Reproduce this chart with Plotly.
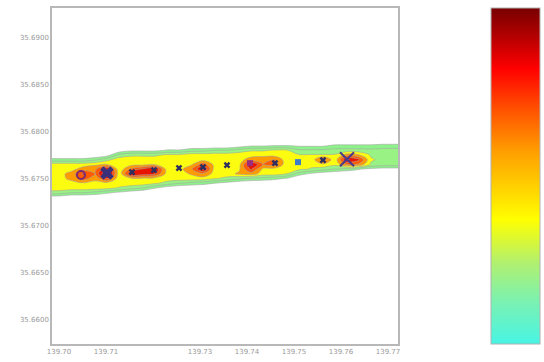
import numpy as np
import plotly.graph_objects as go

# grid longitudes (columns) and latitudes (rows, listed top to bottom)
x_grid = [139.6975, 139.70005, 139.7026, 139.70515, 139.7077, 139.71025, 139.7128,
          139.71535, 139.7179, 139.72045, 139.723, 139.72555, 139.7281, 139.73065,
          139.7332, 139.73575, 139.7383, 139.74085, 139.7434, 139.74595, 139.7485,
          139.75105, 139.7536, 139.75615, 139.7587, 139.76125, 139.7638, 139.76635,
          139.7689, 139.77145, 139.774]
y_grid_top_down = [35.6805, 35.6800, 35.6795, 35.6790, 35.6785, 35.6780, 35.6775,
                   35.6770, 35.6765, 35.6760, 35.6755, 35.6750, 35.6745, 35.6740,
                   35.6735, 35.6730, 35.6725, 35.6720]

# density, one list per longitude column (rows top -> bottom)
z_cols = [
    [0,0,0,0,0,0,0,13,35,36,36,36,36,36,26,4,0,0],
    [0,0,0,0,0,0,0,13,35,36,36,36,36,36,26,4,0,0],
    [0,0,0,0,0,0,0,13,35,36,44,43,36,36,21,0,0,0],
    [0,0,0,0,0,0,0,13,35,45,62,55,39,36,21,0,0,0],
    [0,0,0,0,0,0,0,18,38,48,50,44,36,36,17,0,0,0],
    [0,0,0,0,0,0,5,27,40,68,85,60,36,34,12,0,0,0],
    [0,0,0,0,0,2,23,36,36,33,32,33,36,29,8,0,0,0],
    [0,0,0,0,0,7,28,36,36,52,70,38,36,25,3,0,0,0],
    [0,0,0,0,0,7,28,36,36,62,66,38,36,20,0,0,0,0],
    [0,0,0,0,0,7,28,36,38,72,60,36,32,11,0,0,0,0],
    [0,0,0,0,0,11,32,36,36,34,36,36,26,4,0,0,0,0],
    [0,0,0,0,0,11,32,36,36,36,36,36,21,0,0,0,0,0],
    [0,0,0,0,0,16,36,36,38,48,41,36,17,0,0,0,0,0],
    [0,0,0,0,0,16,36,36,56,72,48,36,14,0,0,0,0,0],
    [0,0,0,0,0,20,36,36,36,34,36,31,10,0,0,0,0,0],
    [0,0,0,0,0,20,36,36,36,36,36,27,6,0,0,0,0,0],
    [0,0,0,0,3,25,36,36,36,38,42,22,2,0,0,0,0,0],
    [0,0,0,0,8,29,36,45,72,62,45,18,0,0,0,0,0,0],
    [0,0,0,0,8,29,36,48,50,38,36,16,0,0,0,0,0,0],
    [0,0,0,0,10,31,36,50,54,36,36,13,0,0,0,0,0,0],
    [0,0,0,0,10,31,36,34,33,36,30,9,0,0,0,0,0,0],
    [0,0,0,0,8,22,31,33,33,33,15,0,0,0,0,0,0,0],
    [0,0,0,0,8,22,31,33,33,29,8,0,0,0,0,0,0,0],
    [0,0,0,0,8,22,31,55,38,25,3,0,0,0,0,0,0,0],
    [0,0,0,0,12,24,31,33,33,20,0,0,0,0,0,0,0,0],
    [0,0,0,0,12,24,45,72,50,16,0,0,0,0,0,0,0,0],
    [0,0,0,0,12,24,41,62,48,11,0,0,0,0,0,0,0,0],
    [0,0,0,0,12,23,29,31,29,7,0,0,0,0,0,0,0,0],
    [0,0,0,0,14,24,27,28,26,5,0,0,0,0,0,0,0,0],
    [0,0,0,0,14,24,27,28,26,5,0,0,0,0,0,0,0,0],
    [0,0,0,0,14,24,27,28,26,5,0,0,0,0,0,0,0,0],
]

# stop points
stop_lon = [139.70468, 139.71021, 139.71553, 139.72021, 139.72553, 139.73064,
            139.73574, 139.74064, 139.74596, 139.75085, 139.75617, 139.76128]
stop_lat = [35.67537, 35.67558, 35.67568, 35.67589, 35.67611, 35.67621,
            35.67642, 35.67663, 35.67663, 35.67674, 35.67695, 35.67705]
small_idx = [2, 3, 4, 5, 6, 8, 10]

x_tick_vals = [139.70, 139.71, 139.73, 139.74, 139.75, 139.76, 139.77]
x_tick_text = ["139.70", "139.71", "139.73", "139.74", "139.75", "139.76", "139.77"]
y_tick_vals = [35.690, 35.685, 35.680, 35.675, 35.670, 35.665, 35.660]
y_tick_text = ["35.6900", "35.6850", "35.6800", "35.6750", "35.6700", "35.6650", "35.6600"]

z = np.array(z_cols, dtype=float).T[::-1]
y_grid = y_grid_top_down[::-1]

fill_scale = [
    [0.0, "#ffffff"], [1/9, "#8ef28a"], [2/9, "#98f284"], [3/9, "#fcfc10"],
    [4/9, "#ff9a00"], [5/9, "#ff5a00"], [6/9, "#e81400"], [7/9, "#b00010"],
    [8/9, "#7a0030"], [1.0, "#5a1050"],
]
bar_scale = [
    [0.0, "#48f4e4"], [0.12, "#78f2b4"], [0.24, "#b0f070"], [0.37, "#ffff00"],
    [0.57, "#ffa000"], [0.70, "#ff5000"], [0.82, "#ff0000"], [0.92, "#b00000"],
    [1.0, "#780000"],
]

fig = go.Figure()
fig.add_trace(go.Contour(
    x=x_grid, y=y_grid, z=z,
    autocontour=False,
    contours=dict(start=10, end=90, size=10, coloring="fill", showlines=True),
    line=dict(color="rgba(165,165,165,0.85)", width=0.7, smoothing=1),
    colorscale=fill_scale, showscale=False, hoverinfo="skip",
))
fig.add_trace(go.Scatter(
    x=[stop_lon[i] for i in small_idx], y=[stop_lat[i] for i in small_idx],
    mode="markers", marker=dict(symbol="x", size=6, color="#2e2f5e"),
    showlegend=False,
))
fig.add_trace(go.Scatter(
    x=[stop_lon[0]], y=[stop_lat[0]], mode="markers",
    marker=dict(symbol="circle-open", size=8, color="#7d2a6e", line=dict(width=2)),
    showlegend=False,
))
fig.add_trace(go.Scatter(
    x=[stop_lon[1]], y=[stop_lat[1]], mode="markers",
    marker=dict(symbol="x", size=12, color="#3b2f7a"), showlegend=False,
))
fig.add_trace(go.Scatter(
    x=[stop_lon[7]], y=[stop_lat[7]], mode="markers",
    marker=dict(symbol="square", size=6, color="#9b2d7a"), showlegend=False,
))
fig.add_trace(go.Scatter(
    x=[stop_lon[9]], y=[stop_lat[9]], mode="markers",
    marker=dict(symbol="square", size=6, color="#3c7cc8"), showlegend=False,
))
fig.add_trace(go.Scatter(
    x=[stop_lon[11]], y=[stop_lat[11]], mode="markers",
    marker=dict(symbol="x-thin-open", size=14, color="#4a3a8a", line=dict(width=2)),
    showlegend=False,
))
fig.add_trace(go.Scatter(
    x=[None], y=[None], mode="markers", showlegend=False, hoverinfo="skip",
    marker=dict(color=[0], cmin=0, cmax=1, colorscale=bar_scale, showscale=True,
                colorbar=dict(xref="container", x=0.9026, xanchor="left",
                              y=0.5, yanchor="middle",
                              len=1.0, thickness=49, xpad=0, ypad=0,
                              outlinewidth=1, outlinecolor="#b0b0b0",
                              showticklabels=False, ticks="")),
))

axis_common = dict(showline=True, linecolor="#b8b8b8", linewidth=1.5, mirror=True,
                   showgrid=False, zeroline=False, ticks="",
                   tickfont=dict(family="DejaVu Sans", size=7, color="#999999"))
fig.update_xaxes(range=[139.69851, 139.77213], tickvals=x_tick_vals,
                 ticktext=x_tick_text, **axis_common)
fig.update_yaxes(range=[35.657368, 35.693158], tickvals=y_tick_vals,
                 ticktext=y_tick_text, **axis_common)
fig.update_layout(width=544, height=362, margin=dict(l=52, r=146, t=6, b=16),
                  paper_bgcolor="white", plot_bgcolor="white", showlegend=False)
fig.write_html("out.html", config={"displayModeBar": False},
               post_script="document.body.style.margin='0px';document.body.style.padding='0px';")
